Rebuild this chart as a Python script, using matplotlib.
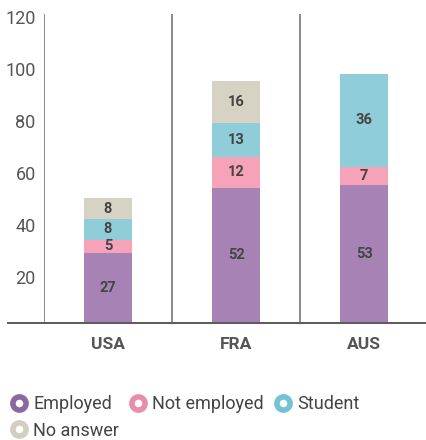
import matplotlib
matplotlib.use("Agg")
import matplotlib.pyplot as plt
from matplotlib.lines import Line2D
from matplotlib.transforms import ScaledTranslation
import numpy as np

plt.rcParams['font.family'] = ['Roboto', 'DejaVu Sans']

# data
countries = ["USA", "FRA", "AUS"]
series = ["Employed", "Not employed", "Student", "No answer"]
employed = [27, 52, 53]
not_employed = [5, 12, 7]
student = [8, 13, 36]
no_answer = [8, 16, 0]
yticks = [20, 40, 60, 80, 100, 120]

bar_colors = ["#a783b5", "#f6a2b9", "#8fcdd8", "#d6d2c4"]
ring_colors = ["#8c68a3", "#e88ea8", "#74c3d2", "#d3cfc0"]
text_dark = "#444444"
line_col = "#5a5a5a"

W, H = 427, 440
fig = plt.figure(figsize=(W / 100, H / 100), dpi=100)
ax = fig.add_axes([44 / W, 117 / H, 1 - 44 / W, 317 / H])

x = np.arange(len(countries))
values = [employed, not_employed, student, no_answer]
bottom = np.zeros(len(countries))
for vals, col in zip(values, bar_colors):
    vals = np.array(vals, dtype=float)
    ax.bar(x, vals, width=0.375, bottom=bottom, color=col, zorder=2)
    for xi, b, v in zip(x, bottom, vals):
        if v > 0:
            ax.text(xi, b + v / 2, str(int(v)), ha="center", va="center",
                    fontsize=10.5, fontweight="bold", color=text_dark, zorder=3)
    bottom += vals

ax.set_xlim(-0.5, 2.49)
ax.set_ylim(0, 122)
ax.set_xticks(x)
ax.set_xticklabels(countries, fontsize=12.5, fontweight="bold", color="#555555")
ax.set_yticks(yticks)
ax.set_yticklabels([str(t) for t in yticks], fontsize=13, color="#555555")
ax.tick_params(axis="both", length=0)
ax.tick_params(axis="x", pad=10)
ax.tick_params(axis="y", pad=6)
# tick labels sit a little below their grid value, as in the source
shift = ScaledTranslation(0, -4 / 72, fig.dpi_scale_trans)
for lab in ax.get_yticklabels():
    lab.set_transform(lab.get_transform() + shift)

for s in ["top", "right", "left"]:
    ax.spines[s].set_visible(False)
ax.spines["bottom"].set_color(line_col)
ax.spines["bottom"].set_linewidth(1.4)
ax.vlines([-0.5, 0.5, 1.5], 0, 119, color="#6a6a6a", linewidth=1.1, zorder=1)

# bottom line reaches beyond the left axis
fig.add_artist(Line2D([8 / W, 44 / W], [117 / H, 117 / H], transform=fig.transFigure,
                      color=line_col, linewidth=1.4))

# legend: order handles so that "No answer" drops to the second row
handles = [Line2D([], [], ls="", marker="o", markersize=9.5, markerfacecolor="white",
                  markeredgecolor=c, markeredgewidth=4) for c in ring_colors]
order = [0, 3, 1, 2]
fig.legend([handles[i] for i in order], [series[i] for i in order], ncol=3,
           loc="upper left", bbox_to_anchor=(0.01, 50 / H), frameon=False,
           fontsize=13, labelcolor=text_dark, handlelength=1.0, handletextpad=0.3,
           columnspacing=0.55, labelspacing=0.45, borderaxespad=0.0, borderpad=0.3)

fig.savefig("out.png", dpi=100)
